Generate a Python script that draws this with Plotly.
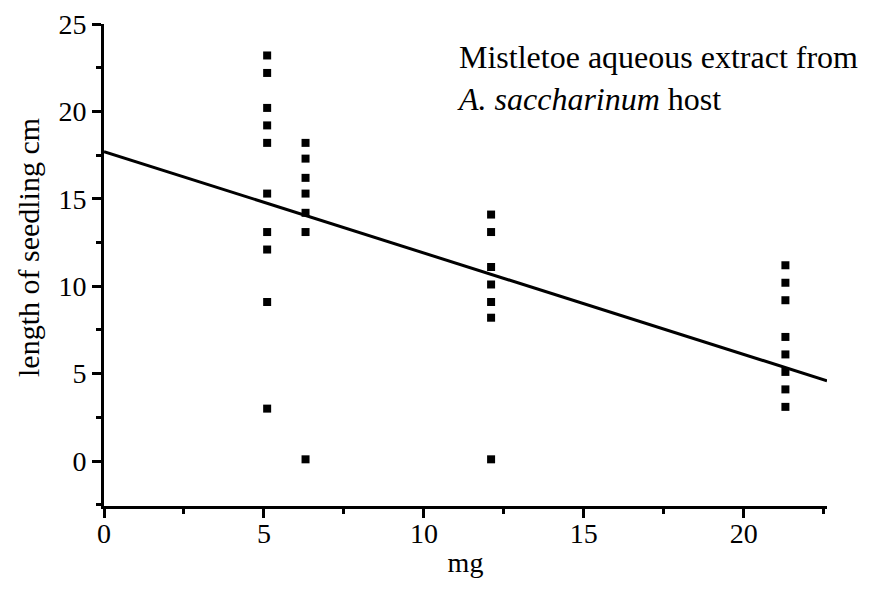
import plotly.graph_objects as go

# dose (mg) for each measured seedling
dose_mg = [5.1] * 10 + [6.3] * 7 + [12.1] * 7 + [21.3] * 8
# seedling length (cm)
length_cm = [
    23.2, 22.2, 20.2, 19.2, 18.2, 15.3, 13.1, 12.1, 9.1, 3.0,
    18.2, 17.3, 16.2, 15.3, 14.2, 13.1, 0.1,
    14.1, 13.1, 11.1, 10.1, 9.1, 8.2, 0.1,
    11.2, 10.2, 9.2, 7.1, 6.1, 5.1, 4.1, 3.1,
]

# fitted trend line
trend_intercept = 17.7
trend_slope = -0.58
trend_x = [0, 22.6]
trend_y = [trend_intercept + trend_slope * x for x in trend_x]

x_ticks = [0, 5, 10, 15, 20]
y_ticks = [0, 5, 10, 15, 20, 25]

FONT = "Liberation Serif"

fig = go.Figure()
fig.add_trace(go.Scatter(
    x=trend_x, y=trend_y, mode="lines",
    line=dict(color="black", width=3), hoverinfo="skip",
))
fig.add_trace(go.Scatter(
    x=dose_mg, y=length_cm, mode="markers",
    marker=dict(symbol="square", size=8, color="black"),
))

axis_common = dict(
    showgrid=False, zeroline=False, showline=True, linecolor="black", linewidth=3,
    ticks="outside", ticklen=9, tickwidth=2.5, tickcolor="black",
    tickfont=dict(family=FONT, size=28, color="black"),
    minor=dict(ticks="outside", ticklen=5, tickwidth=2.5, tickcolor="black", dtick=2.5),
    automargin=False,
)

fig.update_xaxes(
    range=[0, 22.6], tickvals=x_ticks, ticklabelstandoff=-9, **axis_common,
    title=dict(text="mg", font=dict(family=FONT, size=28, color="black"), standoff=5),
)
fig.update_yaxes(range=[-2.57, 25], tickvals=y_ticks, **axis_common)

# y axis title, placed a little above the middle as in the source figure
fig.add_annotation(
    xref="paper", yref="paper", x=(28 - 104) / 723, y=1 - (248 - 24) / 482,
    xanchor="center", yanchor="middle", textangle=-90, showarrow=False,
    text="length of seedling cm",
    font=dict(family=FONT, size=30, color="black"),
)

fig.add_annotation(
    xref="paper", yref="paper", x=(455 - 104) / 723, y=1 - (37 - 24) / 482,
    xanchor="left", yanchor="top", align="left", showarrow=False,
    text="Mistletoe aqueous extract from<br><i>A. saccharinum</i> host",
    font=dict(family=FONT, size=32, color="black"),
)

# page body has an 8px margin, so the figure is 8px smaller than the window
fig.update_layout(
    width=864, height=591,
    margin=dict(l=96, r=45, t=16, b=93),
    plot_bgcolor="white", paper_bgcolor="white",
    showlegend=False,
)

fig.write_html("out.html")
